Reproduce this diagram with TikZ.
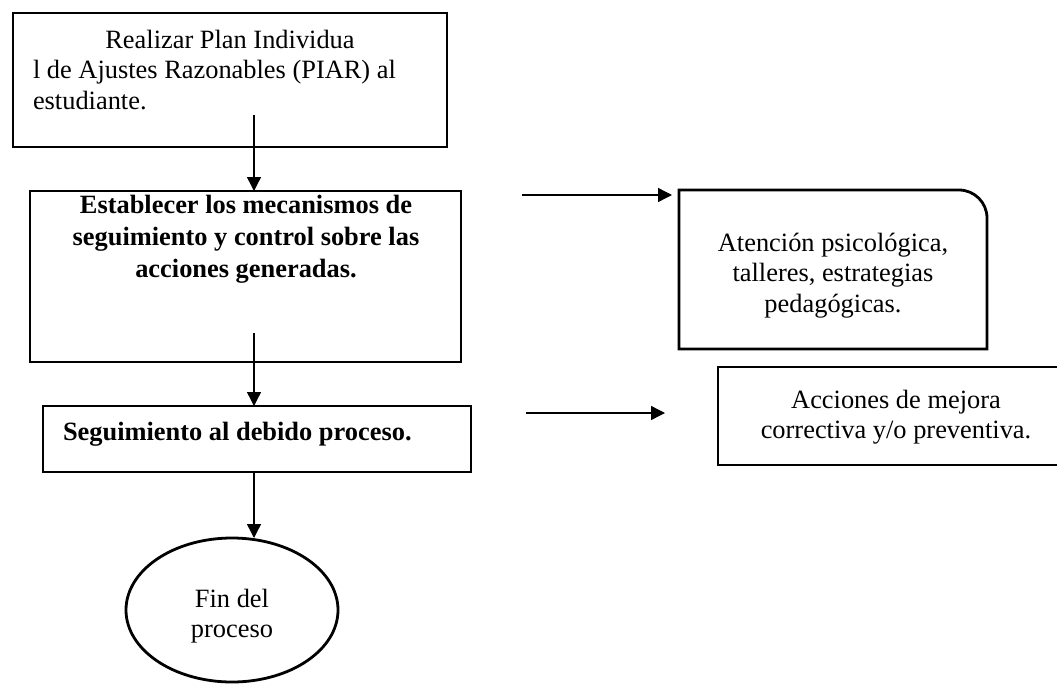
\documentclass[tikz,border=0pt]{standalone}
\usepackage{fontspec}
\setmainfont{Liberation Serif}
\usetikzlibrary{arrows.meta,shapes.geometric,calc}
\tikzset{
  boxline/.style={draw, line width=2.8pt},
  box/.style={boxline, rectangle, inner sep=0pt, outer sep=0pt},
  txt/.style={inner sep=0pt, outer sep=0pt, font=\fontsize{26.4}{30.5}\selectfont},
  btxt/.style={inner sep=0pt, outer sep=0pt, font=\fontsize{26.4}{32}\selectfont\bfseries},
  arr/.style={line width=1.4pt, -{Triangle[length=14pt,width=14pt]}}
}
\begin{document}
\begin{tikzpicture}[x=1pt,y=-1pt]
\useasboundingbox (0,0) rectangle (1057,683);
\clip (0,0) rectangle (1057,683);
% boxes
\node[box, minimum width=434pt, minimum height=134pt] (b1) at (230,80) {};
\node[box, minimum width=431pt, minimum height=171pt] (b2) at (245.5,276.5) {};
\node[box, minimum width=428pt, minimum height=66pt] (b3) at (257,439) {};
\node[ellipse, boxline, inner sep=0pt, outer sep=0pt, minimum width=212pt, minimum height=144pt] (e) at (232,610) {};
\node[rectangle, inner sep=0pt, outer sep=0pt, minimum width=308pt, minimum height=159pt] (b4) at (833,269.5) {};
\draw[line width=2.8pt] (b4.south west) -- (b4.north west) -- ([xshift=-28pt]b4.north east) arc[start angle=90, end angle=0, radius=28pt] -- (b4.south east) -- cycle;
\node[box, minimum width=352pt, minimum height=98pt] (b5) at (894,416) {};
% texts
\node[txt, anchor=base] (t1a) at (230,48) {Realizar Plan Individua};
\node[txt, anchor=north west, align=left] (t1b) at (33,60.5) {l de Ajustes Razonables (PIAR) al\\estudiante.};
\node[btxt, anchor=north, align=center] (t2) at (246,195) {Establecer los mecanismos de\\seguimiento y control sobre las\\acciones generadas.};
\node[btxt, anchor=base west] (t3) at (63,440) {Seguimiento al debido proceso.};
\node[txt, anchor=north, align=center] (t4) at (833,233) {Atención psicológica,\\talleres, estrategias\\pedagógicas.};
\node[txt, anchor=north, align=center] (t5) at (896,390) {Acciones de mejora\\correctiva y/o preventiva.};
\node[txt, anchor=north, align=center] (te) at (232,589) {Fin del\\proceso};
% connectors
\coordinate (s1) at (254,115);
\coordinate (s2) at (254,333);
\coordinate (s3) at (254,472);
\coordinate (s4) at (522,195);
\coordinate (s5) at (526,413);
\coordinate (e5) at (665,413);
\draw[arr] (s1) -- (s1 |- b2.north);
\draw[arr] (s2) -- (s2 |- b3.north);
\draw[arr] (s3) -- (s3 |- e.north);
\draw[arr, shorten >=7pt] (s4) -- (b4.west |- s4);
\draw[arr] (s5) -- (e5);
\end{tikzpicture}
\end{document}
